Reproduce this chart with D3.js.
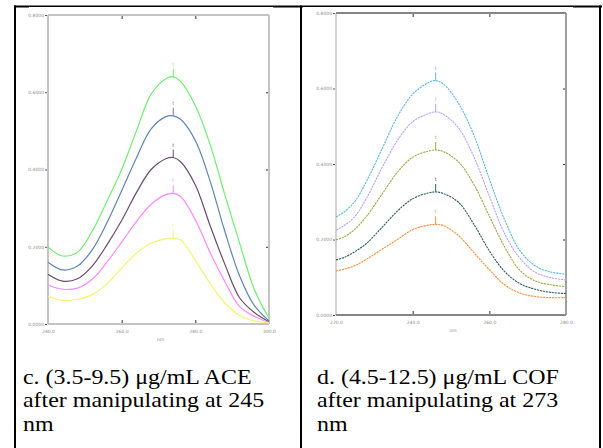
<!DOCTYPE html>
<html>
<head>
<meta charset="utf-8">
<script src="https://cdn.jsdelivr.net/npm/d3@7/dist/d3.min.js"></script>
<style>
  body { margin: 0; background: #fff; }
  svg { display: block; }
  .cap { font-family: "Liberation Serif", "Times New Roman", serif; font-size: 21px; fill: #000; }
  .tiny text { font-family: "DejaVu Sans", sans-serif; font-size: 4.5px; fill: #8c8c8c; }
</style>
</head>
<body>
<div id="viz"></div>
<script>
// panel c: ACE spectra, 5 concentrations (ug/mL)
var aceWl = [240, 244, 248, 252, 256, 260, 264, 268, 272, 274, 276, 280, 284, 288, 292, 296, 300];
var ace95 = [0.199, 0.176, 0.186, 0.240, 0.318, 0.400, 0.500, 0.595, 0.635, 0.640, 0.628, 0.565, 0.465, 0.335, 0.210, 0.090, 0.015];
var ace80 = [0.160, 0.140, 0.150, 0.192, 0.262, 0.345, 0.430, 0.505, 0.537, 0.539, 0.530, 0.475, 0.370, 0.240, 0.125, 0.048, 0.008];
var ace65 = [0.129, 0.111, 0.117, 0.150, 0.205, 0.268, 0.340, 0.400, 0.428, 0.431, 0.420, 0.360, 0.255, 0.155, 0.068, 0.030, 0.006];
var ace50 = [0.101, 0.090, 0.093, 0.116, 0.160, 0.212, 0.265, 0.310, 0.335, 0.338, 0.330, 0.270, 0.185, 0.110, 0.045, 0.020, 0.004];
var ace35 = [0.072, 0.061, 0.064, 0.076, 0.104, 0.145, 0.183, 0.209, 0.221, 0.222, 0.218, 0.165, 0.105, 0.055, 0.022, 0.008, 0.003];
var aceColors = ["#72ee72", "#6084b4", "#6a4c6c", "#ff88ff", "#f4f474"];

// panel d: COF spectra, 5 concentrations (ug/mL)
var cofWl = [220, 222, 225, 228, 232, 236, 240, 244, 246, 248, 252, 256, 260, 264, 268, 272, 276, 280];
var cof125 = [0.260, 0.272, 0.302, 0.355, 0.440, 0.525, 0.585, 0.615, 0.621, 0.612, 0.560, 0.475, 0.360, 0.252, 0.170, 0.130, 0.114, 0.108];
var cof105 = [0.225, 0.236, 0.262, 0.310, 0.390, 0.462, 0.512, 0.533, 0.538, 0.532, 0.495, 0.418, 0.315, 0.215, 0.150, 0.113, 0.099, 0.093];
var cof85 = [0.199, 0.206, 0.228, 0.262, 0.320, 0.378, 0.418, 0.434, 0.437, 0.433, 0.405, 0.345, 0.262, 0.180, 0.118, 0.090, 0.080, 0.075];
var cof65 = [0.146, 0.152, 0.168, 0.190, 0.232, 0.275, 0.308, 0.323, 0.326, 0.322, 0.298, 0.240, 0.170, 0.115, 0.083, 0.068, 0.060, 0.057];
var cof45 = [0.117, 0.121, 0.131, 0.148, 0.174, 0.200, 0.226, 0.238, 0.240, 0.237, 0.210, 0.165, 0.120, 0.080, 0.058, 0.049, 0.046, 0.046];
var cofColors = ["#5cb6e4", "#aea6ff", "#a6a64a", "#305e5e", "#ff8c3c"];

// ticks and captions
var yTicks = [0, 0.2, 0.4, 0.6, 0.8];
var aceXTicks = [240, 260, 280, 300];
var cofXTicks = [220, 240, 260, 280];
var captionC = ["c. (3.5-9.5) μg/mL ACE", "after manipulating at 245", "nm"];
var captionD = ["d. (4.5-12.5) μg/mL COF", "after manipulating at 273", "nm"];

var W = 603, H = 448;

var svg = d3.select("#viz")
    .append("svg")
    .attr("width", W)
    .attr("height", H);

// table borders
svg.append("line").attr("x1", 14).attr("x2", 602).attr("y1", 6.5).attr("y2", 6.5)
    .attr("stroke", "#000").attr("stroke-width", 2);
[15, 301, 600].forEach(function (x) {
    svg.append("line").attr("x1", x).attr("x2", x).attr("y1", 5.5).attr("y2", H)
        .attr("stroke", "#000").attr("stroke-width", 2);
});

// white image areas sitting on the top border
svg.append("rect").attr("x", 29).attr("y", 7).attr("width", 244).attr("height", 338).attr("fill", "#fff");
svg.append("rect").attr("x", 303).attr("y", 7).attr("width", 270).attr("height", 338).attr("fill", "#fff");

function plotPanel(p) {
    var g = svg.append("g");

    var x = d3.scaleLinear().domain([p.xTicks[0], p.xTicks[p.xTicks.length - 1]]).range([p.left, p.right]);
    var y = d3.scaleLinear().domain([0, 0.8]).range([p.bottom, p.top]);

    // frame
    g.append("line").attr("x1", p.left).attr("x2", p.left).attr("y1", p.top).attr("y2", p.bottom)
        .attr("stroke", p.frameLeft).attr("stroke-width", 2);
    g.append("line").attr("x1", p.right).attr("x2", p.right).attr("y1", p.top).attr("y2", p.bottom)
        .attr("stroke", p.frameRight).attr("stroke-width", 2);
    g.append("line").attr("x1", p.left).attr("x2", p.right).attr("y1", p.top).attr("y2", p.top)
        .attr("stroke", p.frameTB).attr("stroke-width", 2);
    g.append("line").attr("x1", p.left).attr("x2", p.right).attr("y1", p.bottom).attr("y2", p.bottom)
        .attr("stroke", p.frameTB).attr("stroke-width", 2);

    var inner = p.xTicks.slice(1, -1);
    var innerY = yTicks.slice(1, -1);

    // y axis with labels, small outward ticks
    g.append("g").attr("class", "tiny")
        .attr("transform", "translate(" + (p.left - 1) + ",0)")
        .style("color", "#555")
        .call(d3.axisLeft(y).tickValues(yTicks).tickSize(2).tickPadding(1).tickFormat(d3.format(".4f")))
        .call(function (a) { a.select(".domain").remove(); });

    // inner ticks, right side
    g.append("g")
        .attr("transform", "translate(" + (p.right - 1) + ",0)")
        .style("color", "#333")
        .call(d3.axisLeft(y).tickValues(innerY).tickSize(2).tickFormat(""))
        .call(function (a) { a.select(".domain").remove(); });

    // inner ticks, top
    g.append("g")
        .attr("transform", "translate(0," + (p.top + 1) + ")")
        .style("color", "#333")
        .call(d3.axisBottom(x).tickValues(inner).tickSize(3).tickFormat(""))
        .call(function (a) { a.select(".domain").remove(); });

    // inner ticks, bottom
    g.append("g")
        .attr("transform", "translate(0," + (p.bottom - 1) + ")")
        .style("color", "#333")
        .call(d3.axisTop(x).tickValues(inner).tickSize(3).tickFormat(""))
        .call(function (a) { a.select(".domain").remove(); });

    // x labels
    g.append("g").attr("class", "tiny")
        .attr("transform", "translate(0," + p.bottom + ")")
        .call(d3.axisBottom(x).tickValues(p.xTicks).tickSize(0).tickPadding(6).tickFormat(d3.format(".1f")))
        .call(function (a) { a.select(".domain").remove(); });

    g.append("text")
        .attr("x", (p.left + p.right) / 2 + 2)
        .attr("y", p.bottom + 17)
        .attr("text-anchor", "middle")
        .style("font-family", "DejaVu Sans, sans-serif")
        .style("font-size", "4.5px")
        .style("fill", "#8c8c8c")
        .text("nm");

    // spectra
    var line = d3.line()
        .x(function (d) { return x(d[0]); })
        .y(function (d) { return y(d[1]); })
        .curve(d3.curveCatmullRom.alpha(0.5));

    p.series.forEach(function (vals, i) {
        var pts = p.wl.map(function (w, j) { return [w, vals[j]]; });
        g.append("path")
            .attr("fill", "none")
            .attr("stroke", p.colors[i])
            .attr("stroke-width", p.dash ? 1.1 : 1.2)
            .attr("stroke-dasharray", p.dash ? "2.2,0.8" : null)
            .attr("d", line(pts));

        // peak pick marker
        var k = d3.maxIndex(vals);
        var px = x(p.wl[k]), py = y(vals[k]);
        g.append("line")
            .attr("x1", px).attr("x2", px).attr("y1", py).attr("y2", py - 8)
            .attr("stroke", p.colors[i]).attr("stroke-width", 1);
        g.append("text")
            .attr("x", px).attr("y", py - 11)
            .attr("text-anchor", "middle")
            .style("font-family", "DejaVu Sans, sans-serif")
            .style("font-size", "5px")
            .style("fill", p.colors[i])
            .text("t");
    });
}

plotPanel({
    left: 48, right: 269, top: 15, bottom: 324,
    xTicks: aceXTicks, wl: aceWl,
    series: [ace95, ace80, ace65, ace50, ace35], colors: aceColors, dash: false,
    frameLeft: "#c4c4c4", frameRight: "#c4c4c4", frameTB: "#c4c4c4"
});

plotPanel({
    left: 336, right: 566, top: 13, bottom: 315,
    xTicks: cofXTicks, wl: cofWl,
    series: [cof125, cof105, cof85, cof65, cof45], colors: cofColors, dash: true,
    frameLeft: "#d4d4d4", frameRight: "#a0a0a0", frameTB: "#858585"
});

// captions (the source figure is stretched sideways)
function caption(lines, x0) {
    svg.append("g")
        .attr("transform", "translate(" + x0 + ",0) scale(1.14,1)")
        .selectAll("text")
        .data(lines)
        .enter()
        .append("text")
        .attr("class", "cap")
        .attr("x", 0)
        .attr("y", function (d, i) { return 384 + i * 23.5; })
        .text(function (d) { return d; });
}
caption(captionC, 23);
caption(captionD, 317);
</script>
</body>
</html>
